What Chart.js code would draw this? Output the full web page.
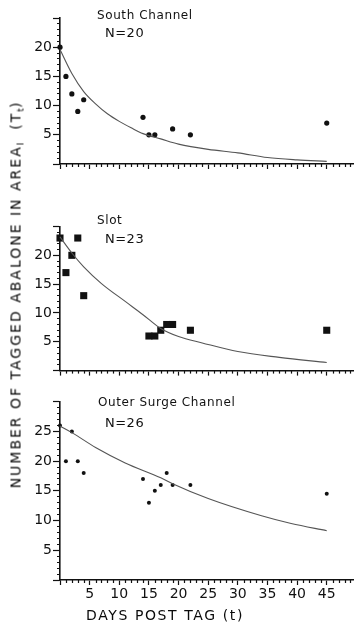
<!DOCTYPE html>
<html>
<head>
<meta charset="utf-8">
<script src="https://cdn.jsdelivr.net/npm/chart.js@4.4.1/dist/chart.umd.min.js"></script>
<style>
  body { margin: 0; background: #fff; }
  #wrap { position: relative; width: 354px; height: 622px; overflow: hidden;
          font-family: "DejaVu Sans", sans-serif; color: #111; }
  canvas { position: absolute; left: 0; }
  .txt { position: absolute; white-space: nowrap; line-height: 1; }
  .ttl { font-size: 12px; letter-spacing: 0.6px; }
  .n { font-size: 13px; letter-spacing: 0.5px; }
  #ytitle { position: absolute; left: -182px; top: 284px; width: 400px; text-align: center;
            white-space: nowrap; font-size: 14px; letter-spacing: 2px; line-height: 16px;
            color: #0a0a0a; transform: rotate(-90deg); }
  #xtitle { position: absolute; left: 86px; top: 607px; font-size: 14px; letter-spacing: 1.6px; color: #0a0a0a; }
  sub { font-size: 9px; vertical-align: -3px; letter-spacing: 0; }
</style>
</head>
<body>
<div id="wrap">
  <canvas id="south" width="354" height="180" style="top:0"></canvas>
  <canvas id="slot" width="354" height="200" style="top:180px"></canvas>
  <canvas id="outer" width="354" height="242" style="top:380px"></canvas>

  <div class="txt ttl" style="left:97px;top:9px">South Channel</div>
  <div class="txt n" style="left:105px;top:26px">N=20</div>
  <div class="txt ttl" style="left:97px;top:214px">Slot</div>
  <div class="txt n" style="left:105px;top:232px">N=23</div>
  <div class="txt ttl" style="left:98px;top:396px">Outer Surge Channel</div>
  <div class="txt n" style="left:105px;top:416px">N=26</div>

  <div id="ytitle">NUMBER OF TAGGED ABALONE IN AREA<sub>I</sub>&nbsp; (T<sub>t</sub>)</div>
  <div id="xtitle">DAYS POST TAG (t)</div>
</div>
<script>
// ---- South Channel ----
const southDays  = [0, 1, 2, 3, 4, 14, 15, 16, 19, 22, 45];
const southCount = [20, 15, 12, 9, 11, 8, 5, 5, 6, 5, 7];
const southFitDays = [0, 2, 4, 6, 8, 10, 12, 14, 17, 20, 25, 30, 35, 40, 45];
const southFit     = [19.6, 15.5, 12.4, 10.3, 8.6, 7.3, 6.2, 5.2, 4.3, 3.4, 2.5, 1.9, 1.1, 0.7, 0.45];

// ---- Slot ----
const slotDays  = [0, 1, 2, 3, 4, 15, 16, 17, 18, 19, 22, 45];
const slotCount = [23, 17, 20, 23, 13, 6, 6, 7, 8, 8, 7, 7];
const slotFitDays = [0, 2, 4, 7, 11, 14, 17, 20, 24, 30, 37, 45];
const slotFit     = [23.2, 20.4, 18.0, 15.1, 12.0, 9.7, 7.3, 5.9, 4.8, 3.3, 2.3, 1.4];

// ---- Outer Surge Channel ----
const outerDays  = [0, 1, 2, 3, 4, 14, 15, 16, 17, 18, 19, 22, 45];
const outerCount = [26, 20, 25, 20, 18, 17, 13, 15, 16, 18, 16, 16, 14.5];
const outerFitDays = [0, 2, 6, 11, 17, 19, 25, 34, 39, 45];
const outerFit     = [25.9, 24.8, 22.3, 19.7, 17.2, 16.2, 13.7, 10.8, 9.5, 8.3];

// tick labels
const dayTicks = [5, 10, 15, 20, 25, 30, 35, 40, 45];
const southTicks = [5, 10, 15, 20];
const slotTicks  = [5, 10, 15, 20];
const outerTicks = [5, 10, 15, 20, 25];

const INK = "#111";
const tickFont = { family: "DejaVu Sans", size: 14 };
const DAY_MAX = 49.6;

function everyUnit(scale, max) {
  const t = [];
  for (let v = 0; v <= max; v++) t.push({ value: v });
  scale.ticks = t;
}

function pts(xs, ys) { return xs.map((x, i) => ({ x, y: ys[i] })); }

const isMajor = c => c.tick && c.tick.value % 5 === 0;

// small day ticks under the x axis, one per day
const dayMinorTicks = {
  id: "dayMinorTicks",
  afterDraw(chart) {
    const sx = chart.scales.x, ctx = chart.ctx;
    ctx.save();
    ctx.strokeStyle = INK;
    ctx.lineWidth = 1.2;
    for (let d = 1; d < DAY_MAX; d++) {
      if (d % 5 === 0) continue;
      const px = Math.round(sx.getPixelForValue(d)) + 0.5;
      ctx.beginPath();
      ctx.moveTo(px, sx.top);
      ctx.lineTo(px, sx.top + 3);
      ctx.stroke();
    }
    ctx.restore();
  }
};

function panel(id, o) {
  new Chart(document.getElementById(id), {
    type: "scatter",
    data: {
      datasets: [
        { data: pts(o.fitDays, o.fit), showLine: true, borderColor: "#555", borderWidth: 1.1,
          pointRadius: 0, cubicInterpolationMode: "monotone", clip: false },
        { data: pts(o.days, o.count), pointStyle: o.style, pointRadius: o.radius,
          backgroundColor: INK, borderWidth: 0, clip: false }
      ]
    },
    plugins: [dayMinorTicks],
    options: {
      responsive: false, animation: false,
      layout: { autoPadding: false, padding: { top: o.padTop, right: 0, left: 0, bottom: 0 } },
      plugins: { legend: { display: false }, tooltip: { enabled: false } },
      scales: {
        x: {
          type: "linear", min: 0, max: DAY_MAX,
          afterBuildTicks: s => { s.ticks = [0, ...dayTicks].map(v => ({ value: v })); },
          afterFit: s => { s.height = o.xAxisH; },
          border: { color: INK, width: 1.6 },
          grid: { drawOnChartArea: false, tickLength: 5, color: INK, tickWidth: 1.2 },
          ticks: {
            autoSkip: false, maxRotation: 0, padding: 1, color: INK, font: tickFont,
            callback: v => (o.dayLabels && dayTicks.includes(v)) ? String(v) : ""
          }
        },
        y: {
          min: 0, max: o.ymax,
          afterBuildTicks: s => everyUnit(s, o.ymax),
          afterFit: s => { s.width = 60; },
          border: { color: INK, width: 1.6 },
          grid: {
            drawOnChartArea: false, tickLength: 7, color: INK, tickWidth: 1.2,
            // minor ticks: only the last 3px next to the axis
            tickBorderDash: c => isMajor(c) ? [] : [3, 4],
            tickBorderDashOffset: c => isMajor(c) ? 0 : 3
          },
          ticks: {
            autoSkip: false, padding: 1, color: INK, font: tickFont,
            callback: v => o.yLabels.includes(v) ? String(v) : ""
          }
        }
      }
    }
  });
}

panel("south", { days: southDays, count: southCount, fitDays: southFitDays, fit: southFit,
  style: "circle", radius: 2.6, ymax: 25, yLabels: southTicks, padTop: 18, xAxisH: 16, dayLabels: false });
panel("slot", { days: slotDays, count: slotCount, fitDays: slotFitDays, fit: slotFit,
  style: "rect", radius: 5, ymax: 25, yLabels: slotTicks, padTop: 46.5, xAxisH: 8.5, dayLabels: false });
panel("outer", { days: outerDays, count: outerCount, fitDays: outerFitDays, fit: outerFit,
  style: "circle", radius: 2, ymax: 30, yLabels: outerTicks, padTop: 21.7, xAxisH: 42, dayLabels: true });
</script>
</body>
</html>
